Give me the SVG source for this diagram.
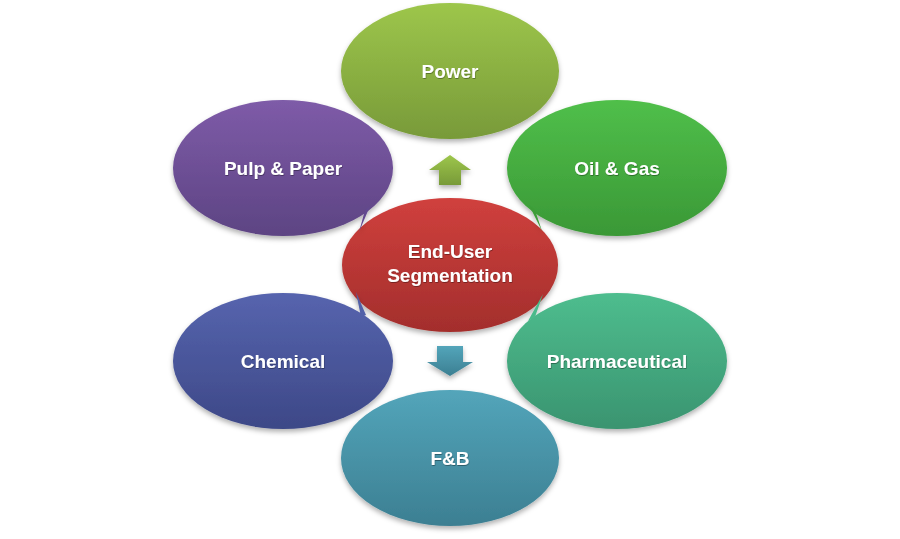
<svg xmlns="http://www.w3.org/2000/svg" width="900" height="539" viewBox="0 0 900 539">
<defs>
<linearGradient id="gPower" x1="0" y1="0" x2="0" y2="1"><stop offset="0" stop-color="#9dc64b"/><stop offset="1" stop-color="#789a39"/></linearGradient>
<linearGradient id="gPulp" x1="0" y1="0" x2="0" y2="1"><stop offset="0" stop-color="#7e5ba8"/><stop offset="1" stop-color="#5d4483"/></linearGradient>
<linearGradient id="gOil" x1="0" y1="0" x2="0" y2="1"><stop offset="0" stop-color="#50bf4a"/><stop offset="1" stop-color="#3a9836"/></linearGradient>
<linearGradient id="gCenter" x1="0" y1="0" x2="0" y2="1"><stop offset="0" stop-color="#d0403d"/><stop offset="1" stop-color="#a32e2c"/></linearGradient>
<linearGradient id="gChem" x1="0" y1="0" x2="0" y2="1"><stop offset="0" stop-color="#5664ae"/><stop offset="1" stop-color="#3d4887"/></linearGradient>
<linearGradient id="gPharma" x1="0" y1="0" x2="0" y2="1"><stop offset="0" stop-color="#4ebd8e"/><stop offset="1" stop-color="#3a9470"/></linearGradient>
<linearGradient id="gFB" x1="0" y1="0" x2="0" y2="1"><stop offset="0" stop-color="#53a5ba"/><stop offset="1" stop-color="#3c7f92"/></linearGradient>
<filter id="sh" x="-20%" y="-20%" width="140%" height="150%">
<feDropShadow dx="0" dy="3" stdDeviation="2.5" flood-color="#000" flood-opacity="0.3"/>
</filter>
<filter id="tsh" x="-10%" y="-30%" width="120%" height="160%">
<feDropShadow dx="0.5" dy="1" stdDeviation="0.6" flood-color="#000" flood-opacity="0.35"/>
</filter>
</defs>
<style>
.lbl{font-family:"Liberation Sans",Arial,sans-serif;font-weight:bold;font-size:19px;fill:#fff;text-anchor:middle;filter:url(#tsh)}
.shp{filter:url(#sh)}
</style>
<rect width="900" height="539" fill="#fff"/>

<g id="center">
<ellipse class="shp" cx="450" cy="265" rx="108" ry="67" fill="url(#gCenter)"/>
<text class="lbl" x="450" y="258">End-User</text>
<text class="lbl" x="450" y="282">Segmentation</text>
</g>

<g id="connectors">
<path class="shp" d="M450,155 L471,170 L461,170 L461,185 L439,185 L439,170 L429,170 Z" fill="url(#gPower)"/>
<path class="shp" d="M437,346 L463,346 L463,362 L473,362 L450,376 L427,362 L437,362 Z" fill="url(#gFB)"/>
</g>

<g id="power">
<ellipse class="shp" cx="450" cy="71" rx="109" ry="68" fill="url(#gPower)"/>
<text class="lbl" x="450" y="78">Power</text>
</g>

<g id="pulp-paper">
<g class="shp">
<ellipse cx="283" cy="168" rx="110" ry="68" fill="url(#gPulp)"/>
<path d="M365,210 L359,232 L370,206 Z" fill="#624990"/>
</g>
<text class="lbl" x="283" y="175">Pulp &amp; Paper</text>
</g>

<g id="oil-gas">
<g class="shp">
<ellipse cx="617" cy="168" rx="110" ry="68" fill="url(#gOil)"/>
<path d="M529,205 L542,231 L535,210 Z" fill="#3d9d39"/>
</g>
<text class="lbl" x="617" y="175">Oil &amp; Gas</text>
</g>

<g id="chemical">
<g class="shp">
<ellipse cx="283" cy="361" rx="110" ry="68" fill="url(#gChem)"/>
<path d="M356,292 L361,317 L366,315 Z" fill="#5160a8"/>
</g>
<text class="lbl" x="283" y="368">Chemical</text>
</g>

<g id="pharmaceutical">
<g class="shp">
<ellipse cx="617" cy="361" rx="110" ry="68" fill="url(#gPharma)"/>
<path d="M528,321 L543,294 L535,317 Z" fill="#4aba8a"/>
</g>
<text class="lbl" x="617" y="368">Pharmaceutical</text>
</g>

<g id="fb">
<ellipse class="shp" cx="450" cy="458" rx="109" ry="68" fill="url(#gFB)"/>
<text class="lbl" x="450" y="465">F&amp;B</text>
</g>
</svg>
